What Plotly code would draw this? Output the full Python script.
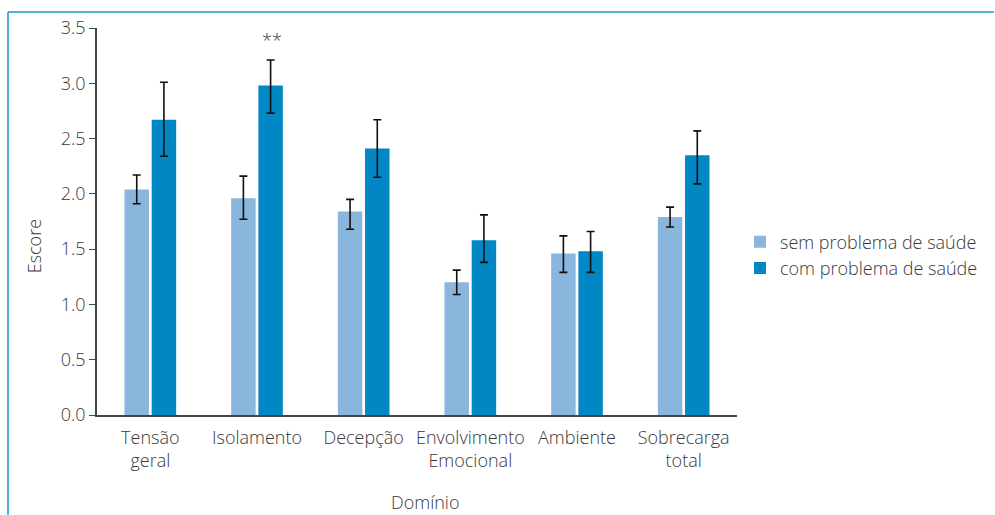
import plotly.graph_objects as go

categories = ["Tensão<br>geral", "Isolamento", "Decepção", "Envolvimento<br>Emocional", "Ambiente", "Sobrecarga<br>total"]
series_names = ["sem problema de saúde", "com problema de saúde"]
sem_values = [2.04, 1.96, 1.84, 1.20, 1.46, 1.79]
sem_upper = [2.17, 2.16, 1.95, 1.31, 1.62, 1.88]
sem_lower = [1.91, 1.77, 1.68, 1.09, 1.29, 1.70]
com_values = [2.67, 2.98, 2.41, 1.58, 1.48, 2.35]
com_upper = [3.01, 3.21, 2.67, 1.81, 1.66, 2.57]
com_lower = [2.34, 2.73, 2.15, 1.38, 1.29, 2.09]
y_ticks = [0.0, 0.5, 1.0, 1.5, 2.0, 2.5, 3.0, 3.5]

FONT = "Open Sans"
TXT = "#383838"
FS = 18
WT = 300

def errs(vals, up, lo):
    return dict(type="data", symmetric=False,
                array=[u - v for u, v in zip(up, vals)],
                arrayminus=[v - l for v, l in zip(vals, lo)],
                color="#111111", thickness=1.6, width=4)

fig = go.Figure()
fig.add_trace(go.Bar(x=categories, y=sem_values, name=series_names[0],
                     marker=dict(color="#8ab5dc", line=dict(width=0)),
                     error_y=errs(sem_values, sem_upper, sem_lower)))
fig.add_trace(go.Bar(x=categories, y=com_values, name=series_names[1],
                     marker=dict(color="#0087c4", line=dict(width=0)),
                     error_y=errs(com_values, com_upper, com_lower)))

fig.add_annotation(x=categories[1], y=com_upper[1], text="**", showarrow=False,
                   xshift=15, yshift=20, font=dict(family=FONT, size=FS, color="#333", weight=WT))
fig.add_annotation(xref="paper", yref="paper", x=-0.099, y=0.435, text="Escore",
                   textangle=-90, showarrow=False, xanchor="center", yanchor="middle",
                   font=dict(family=FONT, size=FS, color=TXT, weight=WT))

# frame lines (top and left) in paper coordinates
L, R, T, B = 97, 258, 28, 100
W = 995 - L - R
H = 515 - T - B
def px(x):
    return (x - L) / W
def py(y):
    return (515 - B - y) / H

fig.add_annotation(xref="paper", yref="paper", x=px(425), y=py(502), text="Domínio",
                   showarrow=False, xanchor="center", yanchor="middle",
                   font=dict(family=FONT, size=FS, color=TXT, weight=WT))
fig.add_shape(type="line", xref="paper", yref="paper", x0=px(8), x1=px(994), y0=py(12), y1=py(12),
              line=dict(color="#1a96d4", width=1.5))
fig.add_shape(type="line", xref="paper", yref="paper", x0=px(8), x1=px(8), y0=py(12), y1=py(516),
              line=dict(color="#1a96d4", width=1.5))

fig.update_layout(
    width=995, height=515,
    margin=dict(l=L, r=R, t=T, b=B),
    paper_bgcolor="white", plot_bgcolor="white",
    barmode="group", bargap=0.49, bargroupgap=0.1,
    font=dict(family=FONT, size=FS, color=TXT, weight=WT),
    showlegend=True,
    legend=dict(x=px(740), y=py(255), xanchor="left", yanchor="middle",
                font=dict(family=FONT, size=FS, color=TXT, weight=WT),
                itemwidth=30, tracegroupgap=0, bgcolor="rgba(0,0,0,0)"),
    xaxis=dict(showline=True, linecolor="#444", linewidth=2, ticks="",
               showgrid=False, ticklabelstandoff=5, tickfont=dict(size=FS, color=TXT, weight=WT)),
    yaxis=dict(range=[0, 3.5], tickvals=y_ticks, ticktext=[f"{v:.1f}" for v in y_ticks],
               showline=True, linecolor="#444", linewidth=1.5, ticks="outside", ticklen=6,
               tickcolor="#444", showgrid=False, zeroline=False,
               tickfont=dict(size=FS, color=TXT, weight=WT)),
)

fig.write_html("out.html")
